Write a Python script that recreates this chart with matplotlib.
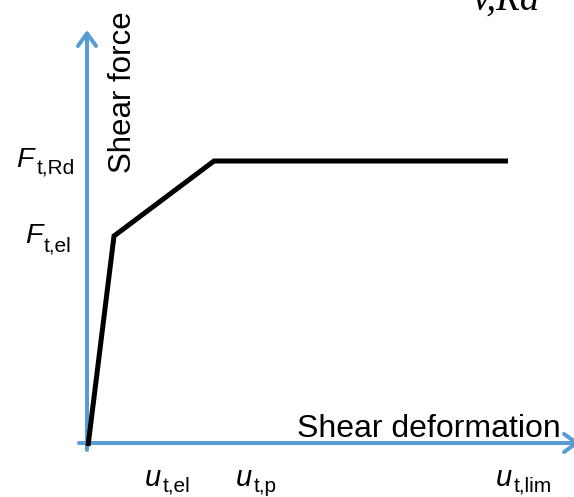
import matplotlib
matplotlib.use("Agg")
import matplotlib.pyplot as plt

# ---- data (shear deformation vs shear force, arbitrary units) ----
deformation = [0.0, 0.26, 1.26, 4.20]
shear_force = [0.0, 2.10, 2.85, 2.85]

force_labels = [("F", "t,Rd"), ("F", "t,el")]
deformation_labels = [("u", "t,el"), ("u", "t,p"), ("u", "t,lim")]
x_axis_title = "Shear deformation"
y_axis_title = "Shear force"
clipped_title = "v,Rd"

BLUE = "#5B9BD5"
plt.rcParams['font.family'] = ['Liberation Sans', 'DejaVu Sans']

fig = plt.figure(figsize=(5.74, 4.97), dpi=100)
ax = fig.add_axes([0, 0, 1, 1])
ax.set_xlim(-0.88, 4.86)
ax.set_ylim(-0.51, 4.46)
ax.axis('off')

# axes arrows
arrow_style = '->,head_length=0.9,head_width=0.65'
ax.annotate('', xy=(-0.01, 4.16), xytext=(-0.01, -0.04),
            arrowprops=dict(arrowstyle=arrow_style, lw=2.9, color=BLUE,
                            shrinkA=0, shrinkB=0, capstyle='round',
                            joinstyle='round'),
            annotation_clip=False, zorder=2)
ax.annotate('', xy=(4.92, 0.03), xytext=(-0.09, 0.03),
            arrowprops=dict(arrowstyle=arrow_style, lw=2.9, color=BLUE,
                            shrinkA=0, shrinkB=0, capstyle='round',
                            joinstyle='round'),
            annotation_clip=False, zorder=2)

# curve
ax.plot(deformation, shear_force, color='black', lw=3.6,
        solid_joinstyle='miter', solid_capstyle='butt', zorder=3)

# axis titles
ax.text(0.35, 2.73, y_axis_title, rotation=90, ha='center', va='bottom',
        fontsize=22.5)
ax.text(4.73, 0.09, x_axis_title, ha='right', va='baseline', fontsize=23)

# force labels
f_pos = [(-0.72, 2.79, -0.51, 2.73), (-0.63, 2.03, -0.44, 1.94)]
for (main, sub), (mx, my, sx, sy) in zip(force_labels, f_pos):
    ax.text(mx, my, main, style='italic', fontsize=20.5, ha='left', va='baseline')
    ax.text(sx, sy, sub, fontsize=15, ha='left', va='baseline')

# deformation labels
u_pos = [(0.57, -0.40, 0.75, -0.46), (1.48, -0.40, 1.66, -0.46),
         (4.08, -0.40, 4.26, -0.46)]
for (main, sub), (mx, my, sx, sy) in zip(deformation_labels, u_pos):
    ax.text(mx, my, main, style='italic', fontsize=21, ha='left', va='baseline')
    ax.text(sx, sy, sub, fontsize=15, ha='left', va='baseline')

# clipped title at top right
ax.text(3.84, 4.36, clipped_title, family='Liberation Serif', style='italic',
        fontsize=28, ha='left', va='baseline', clip_on=False)

fig.savefig('out.png', dpi=100)
